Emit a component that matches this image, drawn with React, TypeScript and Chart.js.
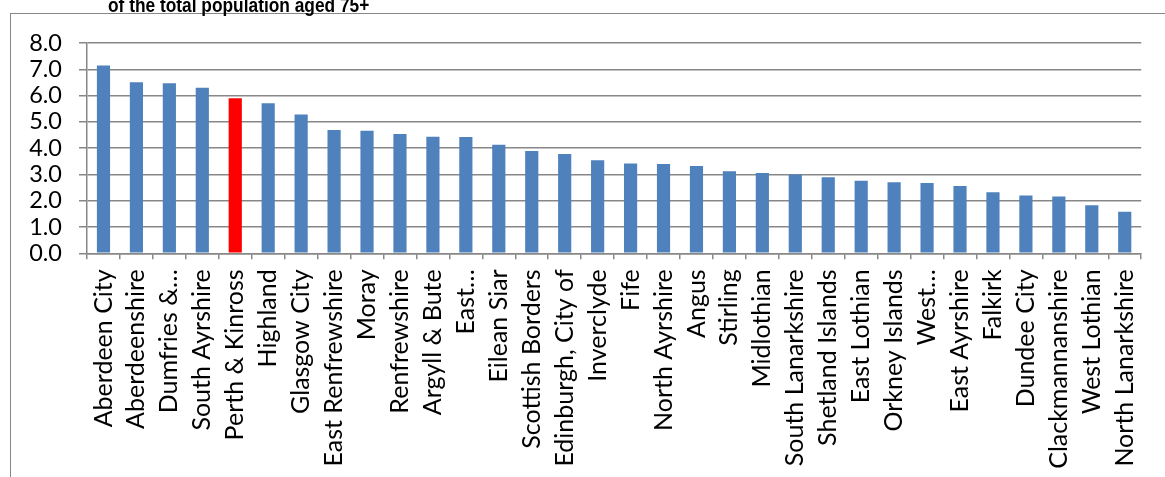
import React, { useEffect, useRef } from "react";
import { Chart, registerables } from "chart.js";

Chart.register(...registerables);

const categories: string[] = [
  "Aberdeen City",
  "Aberdeenshire",
  "Dumfries &…",
  "South Ayrshire",
  "Perth & Kinross",
  "Highland",
  "Glasgow City",
  "East Renfrewshire",
  "Moray",
  "Renfrewshire",
  "Argyll & Bute",
  "East…",
  "Eilean Siar",
  "Scottish Borders",
  "Edinburgh, City of",
  "Inverclyde",
  "Fife",
  "North Ayrshire",
  "Angus",
  "Stirling",
  "Midlothian",
  "South Lanarkshire",
  "Shetland Islands",
  "East Lothian",
  "Orkney Islands",
  "West…",
  "East Ayrshire",
  "Falkirk",
  "Dundee City",
  "Clackmannanshire",
  "West Lothian",
  "North Lanarkshire",
];

const values: number[] = [
  7.14, 6.51, 6.47, 6.3, 5.9, 5.71, 5.28, 4.69, 4.66, 4.54, 4.43, 4.42, 4.13,
  3.89, 3.78, 3.54, 3.42, 3.4, 3.32, 3.12, 3.05, 3.0, 2.89, 2.76, 2.7, 2.67,
  2.56, 2.32, 2.2, 2.16, 1.83, 1.58,
];

const highlighted = "Perth & Kinross";
const titleText = "of the total population aged 75+";
const yMin = 0;
const yMax = 8;
const yStep = 1;

const BLUE = "#4F81BD";
const RED = "#FF0000";
const GRID = "#878787";

export default function App() {
  const canvasRef = useRef<HTMLCanvasElement | null>(null);

  useEffect(() => {
    if (!canvasRef.current) return;
    const xFont = { family: "Lato, 'Open Sans', sans-serif", size: 25 };
    const yFont = { family: "Lato, 'Open Sans', sans-serif", size: 23.5 };
    const chart = new Chart(canvasRef.current, {
      type: "bar",
      data: {
        labels: categories,
        datasets: [
          {
            data: values,
            backgroundColor: categories.map((c) => (c === highlighted ? RED : BLUE)),
            borderWidth: 0,
            barPercentage: 0.4,
            categoryPercentage: 1,
          },
        ],
      },
      options: {
        animation: false,
        responsive: false,
        devicePixelRatio: 1,
        layout: { padding: { left: 0, right: 17, top: 43, bottom: 0 } },
        plugins: {
          legend: { display: false },
          title: { display: false },
          tooltip: { enabled: false },
        },
        scales: {
          x: {
            offset: true,
            grid: {
              display: true,
              drawOnChartArea: false,
              drawTicks: true,
              tickLength: 6,
              offset: true,
              color: GRID,
              lineWidth: 1.5,
            },
            border: { display: true, color: GRID, width: 1.5 },
            ticks: {
              autoSkip: false,
              maxRotation: 90,
              minRotation: 90,
              padding: 10,
              color: "#000",
              font: xFont,
            },
            afterFit: (s: any) => {
              s.height = 477 - 253.3;
            },
          },
          y: {
            min: yMin,
            max: yMax,
            ticks: {
              stepSize: yStep,
              autoSkip: false,
              padding: 17,
              color: "#000",
              font: yFont,
              callback: (v: any) => Number(v).toFixed(1),
            },
            grid: { color: GRID, lineWidth: 1.5, tickLength: 8, drawTicks: true },
            border: { display: true, color: GRID, width: 1.5 },
            afterFit: (s: any) => {
              s.width = 87;
            },
          },
        },
      },
    });
    return () => chart.destroy();
  }, []);

  return (
    <div
      style={{
        position: "fixed",
        left: 0,
        top: 0,
        width: 1165,
        height: 477,
        overflow: "hidden",
        background: "#fff",
      }}
    >
      <div
        style={{
          position: "absolute",
          left: 10,
          top: 13,
          width: 1300,
          height: 600,
          border: `1.5px solid ${GRID}`,
          boxSizing: "border-box",
        }}
      />
      <canvas
        ref={canvasRef}
        width={1165}
        height={477}
        style={{ position: "absolute", left: 0, top: 0, width: 1165, height: 477, display: "block" }}
      />
      <div
        style={{
          position: "absolute",
          left: 108,
          top: -6,
          fontFamily: "'Liberation Sans', Arial, sans-serif",
          fontWeight: "bold",
          fontSize: 21,
          lineHeight: "21px",
          whiteSpace: "nowrap",
          color: "#000",
          transform: "scaleX(0.825)",
          transformOrigin: "0 0",
        }}
      >
        {titleText}
      </div>
    </div>
  );
}
